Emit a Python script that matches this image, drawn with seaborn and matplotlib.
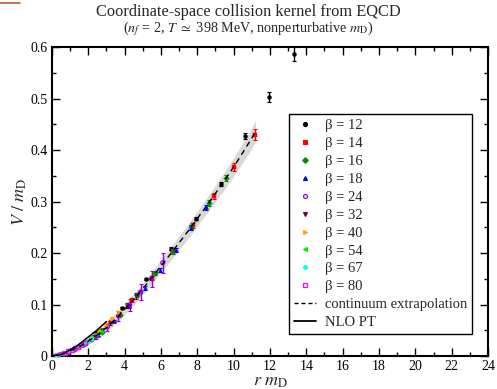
import numpy as np
import pandas as pd
import matplotlib
matplotlib.use("Agg")
import matplotlib.pyplot as plt
from matplotlib.lines import Line2D
import seaborn as sns

# ---- data ----
betas = [12, 14, 16, 18, 24, 32, 40, 54, 67, 80]

b12_x = [1.10, 2.47, 3.83, 5.20, 6.55, 7.93, 9.30, 10.60, 11.95, 13.30]
b12_y = [0.012, 0.047, 0.094, 0.149, 0.208, 0.267, 0.334, 0.428, 0.503, 0.586]
b12_e = [0.001, 0.002, 0.002, 0.002, 0.003, 0.003, 0.004, 0.006, 0.010, 0.014]

b14_x = [1.00, 2.13, 3.26, 4.39, 5.52, 6.65, 7.78, 8.91, 10.04, 11.17]
b14_y = [0.010, 0.032, 0.066, 0.108, 0.152, 0.203, 0.254, 0.311, 0.367, 0.430]
b14_e = [0.001, 0.001, 0.002, 0.003, 0.004, 0.004, 0.005, 0.006, 0.008, 0.011]

b16_x = [0.78, 1.76, 2.74, 3.72, 4.70, 5.68, 6.66, 7.64, 8.62, 9.60]
b16_y = [0.006, 0.024, 0.047, 0.080, 0.118, 0.161, 0.203, 0.250, 0.297, 0.345]
b16_e = [0.001, 0.001, 0.002, 0.002, 0.003, 0.003, 0.004, 0.004, 0.005, 0.006]

b18_x = [0.85, 1.70, 2.55, 3.40, 4.25, 5.10, 5.95, 6.80, 7.65, 8.50]
b18_y = [0.007, 0.024, 0.041, 0.068, 0.098, 0.132, 0.167, 0.206, 0.249, 0.289]
b18_e = [0.001, 0.001, 0.002, 0.002, 0.003, 0.003, 0.004, 0.004, 0.005, 0.005]

b24_x = [0.61, 1.22, 1.83, 2.44, 3.05, 3.66, 4.27, 4.88, 5.49, 6.10]
b24_y = [0.004, 0.013, 0.025, 0.040, 0.057, 0.078, 0.099, 0.124, 0.150, 0.181]
b24_e = [0.001, 0.003, 0.004, 0.006, 0.008, 0.010, 0.012, 0.015, 0.016, 0.019]

b32_x = [0.46, 0.92, 1.38, 1.84, 2.30, 2.76, 3.22, 3.68, 4.14, 4.60]
b32_y = [0.003, 0.008, 0.016, 0.026, 0.037, 0.050, 0.064, 0.081, 0.098, 0.117]
b32_e = [0.001, 0.001, 0.002, 0.002, 0.003, 0.003, 0.004, 0.004, 0.005, 0.006]

b40_x = [0.37, 0.74, 1.11, 1.48, 1.85, 2.22, 2.59, 2.96, 3.33, 3.70]
b40_y = [0.002, 0.006, 0.012, 0.019, 0.027, 0.037, 0.049, 0.061, 0.072, 0.084]
b40_e = [0.001, 0.001, 0.001, 0.002, 0.002, 0.002, 0.003, 0.003, 0.004, 0.004]

b54_x = [0.27, 0.54, 0.81, 1.08, 1.35, 1.62, 1.89, 2.16, 2.43, 2.70]
b54_y = [0.001, 0.004, 0.008, 0.012, 0.017, 0.022, 0.028, 0.035, 0.042, 0.049]
b54_e = [0.001, 0.001, 0.001, 0.001, 0.002, 0.002, 0.002, 0.003, 0.003, 0.003]

b67_x = [0.22, 0.44, 0.66, 0.88, 1.10, 1.32, 1.54, 1.76, 1.98, 2.20]
b67_y = [0.001, 0.003, 0.005, 0.008, 0.011, 0.015, 0.019, 0.024, 0.029, 0.034]
b67_e = [0.001, 0.001, 0.001, 0.001, 0.001, 0.002, 0.002, 0.002, 0.003, 0.003]

b80_x = [0.18, 0.36, 0.54, 0.72, 0.90, 1.08, 1.26, 1.44, 1.62, 1.80]
b80_y = [0.001, 0.002, 0.004, 0.006, 0.009, 0.012, 0.015, 0.018, 0.022, 0.026]
b80_e = [0.001, 0.001, 0.001, 0.001, 0.002, 0.002, 0.002, 0.003, 0.003, 0.004]

# continuum extrapolation with its error band
cont_x = [0, 0.5, 1, 1.5, 2, 2.5, 3, 3.5, 4, 4.5, 5, 5.5, 6, 6.5, 7, 7.5, 8,
          8.5, 9, 9.5, 10, 10.5, 11, 11.2]
cont_y = [0, 0.003, 0.010, 0.018, 0.029, 0.041, 0.055, 0.072, 0.091, 0.110,
          0.131, 0.152, 0.175, 0.197, 0.220, 0.243, 0.267, 0.291, 0.316,
          0.341, 0.367, 0.395, 0.423, 0.437]
band_lo = [0, 0.001, 0.006, 0.013, 0.023, 0.034, 0.047, 0.063, 0.081, 0.099,
           0.120, 0.140, 0.163, 0.184, 0.207, 0.229, 0.253, 0.276, 0.300,
           0.324, 0.349, 0.376, 0.403, 0.416]
band_hi = [0, 0.005, 0.014, 0.023, 0.035, 0.048, 0.063, 0.081, 0.101, 0.121,
           0.142, 0.164, 0.187, 0.210, 0.233, 0.257, 0.281, 0.306, 0.332,
           0.358, 0.385, 0.414, 0.443, 0.458]

# NLO perturbation theory
nlo_x = [0, 0.25, 0.5, 0.75, 1.0, 1.25, 1.5, 1.75, 2.0, 2.25, 2.5, 2.75, 3.0]
nlo_y = [0, 0.001, 0.003, 0.007, 0.012, 0.017, 0.023, 0.030, 0.037, 0.044,
         0.051, 0.059, 0.067]

x_ticks = [0, 2, 4, 6, 8, 10, 12, 14, 16, 18, 20, 22, 24]
y_ticks = [0, 0.1, 0.2, 0.3, 0.4, 0.5, 0.6]
y_labels = ["0", "0.1", "0.2", "0.3", "0.4", "0.5", "0.6"]

series = {
    12: (b12_x, b12_y, b12_e),
    14: (b14_x, b14_y, b14_e),
    16: (b16_x, b16_y, b16_e),
    18: (b18_x, b18_y, b18_e),
    24: (b24_x, b24_y, b24_e),
    32: (b32_x, b32_y, b32_e),
    40: (b40_x, b40_y, b40_e),
    54: (b54_x, b54_y, b54_e),
    67: (b67_x, b67_y, b67_e),
    80: (b80_x, b80_y, b80_e),
}

# Grace-like styles: colour, marker, filled
styles = {
    12: ("#000000", "o", True),
    14: ("#ff0000", "s", True),
    16: ("#008b00", "D", True),
    18: ("#0000ff", "^", True),
    24: ("#9400d3", "o", False),
    32: ("#670748", "v", True),
    40: ("#ffa500", ">", True),
    54: ("#00ee00", "<", True),
    67: ("#00ffff", "P", True),
    80: ("#ff00ff", "s", False),
}

sns.set_style("ticks")
plt.rcParams["font.family"] = ["Liberation Serif", "DejaVu Serif"]
plt.rcParams["mathtext.fontset"] = "stix"

fig = plt.figure(figsize=(4.97, 3.89), dpi=100)
ax = fig.add_axes([0.1046, 0.0848, 0.8773, 0.7943])

# band + continuum line
ax.fill_between(cont_x, band_lo, band_hi, color="#d9d9d9", lw=0, zorder=1)

for b in betas:
    xs, ys, es = series[b]
    col, mk, filled = styles[b]
    ax.errorbar(xs, ys, yerr=es, fmt="none", ecolor=col, elinewidth=1.0,
                capsize=1.2, capthick=0.8, zorder=2)
    df = pd.DataFrame({"r": xs, "V": ys})
    sns.scatterplot(data=df, x="r", y="V", ax=ax, marker=mk, s=8,
                    color=col if filled else "none",
                    edgecolor=col, linewidth=0.9 if not filled else 0.3,
                    zorder=3, legend=False)

sns.lineplot(x=cont_x, y=cont_y, ax=ax, color="black", lw=1.0,
             linestyle=(0, (4, 3)), estimator=None, sort=False, zorder=4)
sns.lineplot(x=nlo_x, y=nlo_y, ax=ax, color="black", lw=1.1,
             estimator=None, sort=False, zorder=4)

ax.set_xlim(0, 24)
ax.set_ylim(0, 0.6)
ax.set_xticks(x_ticks)
ax.set_xticks(np.arange(1, 24, 2), minor=True)
ax.set_yticks(y_ticks)
ax.set_yticklabels(y_labels)
ax.set_yticks(np.arange(0.05, 0.6, 0.1), minor=True)
ax.tick_params(which="both", direction="in", top=True, right=True,
               labelsize=10, colors="black", pad=3)
ax.tick_params(which="major", length=6, width=1.0)
ax.tick_params(which="minor", length=3, width=1.0)
for sp in ax.spines.values():
    sp.set_linewidth(1.5)
    sp.set_color("black")

ax.set_xlabel(r"$r\ m_{\mathrm{D}}$", fontsize=13, labelpad=0)
ax.set_ylabel(r"$V\ /\ m_{\mathrm{D}}$", fontsize=13, labelpad=1)

fig.text(0.5, 0.968, "Coordinate-space collision kernel from EQCD",
         ha="center", va="center", fontsize=11.8)
fig.text(0.5, 0.926,
         r"($n_f$ = 2, $T$ $\simeq$ 398 MeV, nonperturbative $m_{\mathrm{D}}$)",
         ha="center", va="center", fontsize=10.2)

# legend
handles = []
labels = []
for b in betas:
    col, mk, filled = styles[b]
    handles.append(Line2D([], [], linestyle="none", marker=mk, markersize=2.8,
                          markerfacecolor=col if filled else "none",
                          markeredgecolor=col, markeredgewidth=0.9))
    labels.append("\u03b2 = %d" % b)
handles.append(Line2D([], [], color="black", lw=1.0, linestyle=(0, (3, 2))))
labels.append("continuum extrapolation")
handles.append(Line2D([], [], color="black", lw=1.3))
labels.append("NLO PT")

leg = ax.legend(handles, labels, loc="upper right",
                bbox_to_anchor=(0.963, 0.783), fontsize=10.5,
                frameon=True, fancybox=False, framealpha=1,
                edgecolor="black", borderpad=0.35, labelspacing=0.32,
                handlelength=1.5, handletextpad=0.6, borderaxespad=0)
leg.get_frame().set_linewidth(1.0)

# small stray mark at the top-left corner of the original image
fig.add_artist(Line2D([0, 20 / 497], [1 - 2.5 / 389, 1 - 2.5 / 389],
                      color="#b0603a", lw=1.2, transform=fig.transFigure))

fig.savefig("out.png", dpi=100)
